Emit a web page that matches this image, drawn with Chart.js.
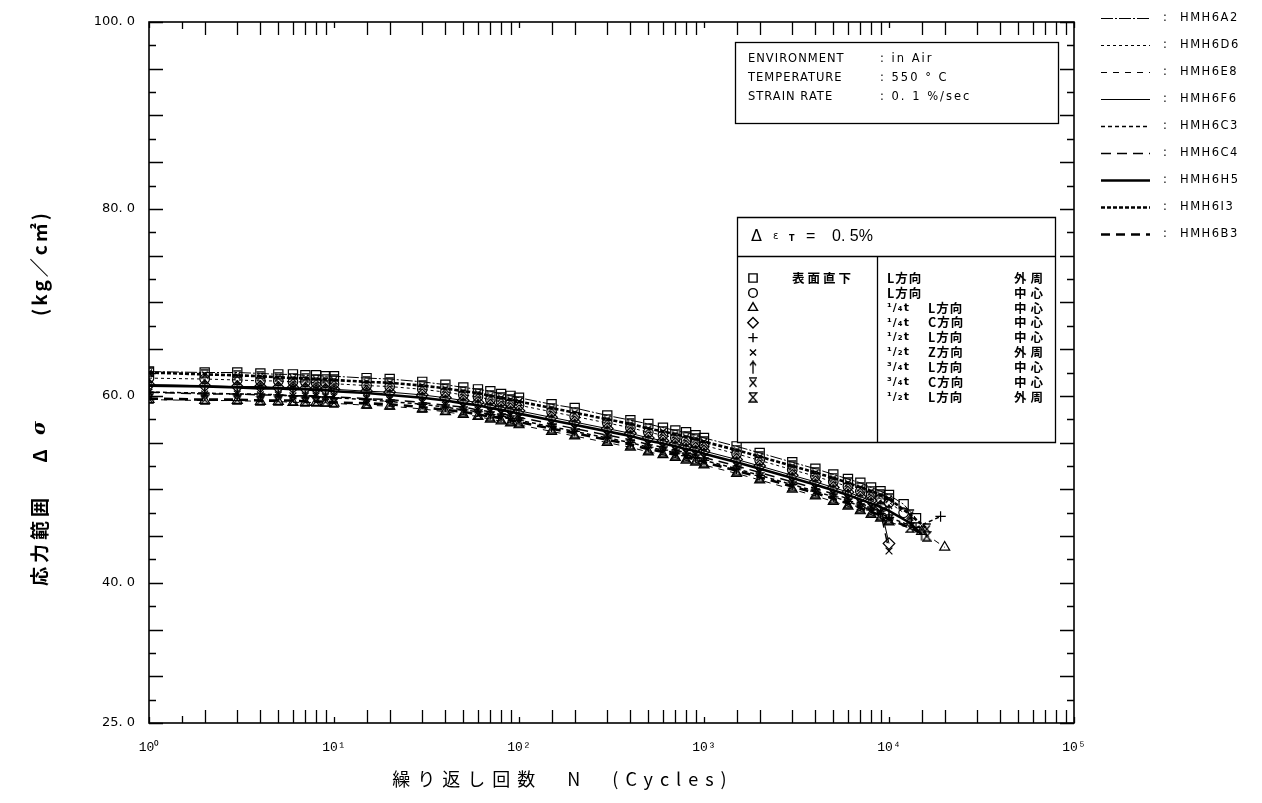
<!DOCTYPE html>
<html><head><meta charset="utf-8">
<script src="https://cdn.jsdelivr.net/npm/chart.js@4.4.1/dist/chart.umd.min.js"></script>
<style>html,body{margin:0;padding:0;background:#fff;}#wrap{width:1262px;height:803px;}</style>
</head><body><div id="wrap"><canvas id="c" width="1262" height="803"></canvas></div>
<script>
// ---------------- data ----------------
const cycles = [1,2,3,4,5,6,7,8,9,10,15,20,30,40,50,60,70,80,90,100,150,200,300,400,500,600,700,800,900,1000,1500,2000,3000,4000,5000,6000,7000,8000,9000,10000];
const seriesNames = ['HMH6A2','HMH6D6','HMH6E8','HMH6F6','HMH6C3','HMH6C4','HMH6H5','HMH6I3','HMH6B3'];
const hmh6A2 = [62.6,62.5,62.5,62.4,62.3,62.3,62.2,62.2,62.1,62.1,61.9,61.8,61.5,61.2,60.9,60.7,60.5,60.2,60.0,59.8,59.1,58.7,57.9,57.4,57.0,56.6,56.3,56.1,55.8,55.5,54.6,53.9,52.9,52.2,51.6,51.1,50.7,50.2,49.8,49.4];
const hmh6D6 = [61.9,61.8,61.7,61.6,61.6,61.5,61.5,61.4,61.4,61.3,61.1,61.0,60.7,60.4,60.1,59.9,59.6,59.4,59.2,59.0,58.3,57.8,57.1,56.6,56.1,55.8,55.5,55.2,55.0,54.7,53.8,53.1,52.1,51.4,50.8,50.3,49.8,49.4,49.0,48.6];
const hmh6E8 = [59.6,59.5,59.5,59.4,59.4,59.3,59.3,59.3,59.2,59.2,59.0,58.9,58.6,58.3,58.0,57.8,57.5,57.3,57.1,56.9,56.2,55.7,55.0,54.5,54.0,53.7,53.4,53.1,52.9,52.6,51.7,51.0,50.0,49.3,48.7,48.2,47.7,47.3,46.9,46.5];
const hmh6F6 = [61.2,61.1,61.0,61.0,60.9,60.9,60.8,60.8,60.7,60.7,60.5,60.4,60.1,59.8,59.5,59.3,59.0,58.8,58.6,58.4,57.7,57.2,56.5,56.0,55.5,55.2,54.9,54.6,54.4,54.1,53.2,52.5,51.5,50.8,50.2,49.7,49.2,48.8,48.2,44.2];
const hmh6C3 = [60.4,60.3,60.2,60.2,60.1,60.0,60.0,59.9,59.9,59.8,59.6,59.4,59.1,58.8,58.5,58.3,58.0,57.8,57.6,57.4,56.7,56.2,55.5,55.0,54.5,54.2,53.9,53.6,53.4,53.1,52.2,51.5,50.5,49.8,49.2,48.7,48.2,47.8,47.4,47.0];
const hmh6C4 = [60.4,60.2,60.2,60.1,60.1,60.0,60.0,60.0,59.9,59.9,59.7,59.6,59.3,59.0,58.8,58.5,58.3,58.1,57.9,57.7,57.0,56.5,55.8,55.3,54.8,54.5,54.2,53.9,53.7,53.4,52.5,51.8,50.8,50.1,49.5,49.0,48.5,48.1,47.6,43.4];
const hmh6H5 = [61.1,61.0,60.9,60.8,60.8,60.7,60.7,60.6,60.6,60.5,60.3,60.1,59.8,59.5,59.2,59.0,58.7,58.5,58.3,58.1,57.4,56.9,56.2,55.7,55.2,54.9,54.6,54.3,54.1,53.8,52.9,52.2,51.2,50.5,49.9,49.4,48.9,48.5,48.1,47.7];
const hmh6I3 = [62.5,62.3,62.2,62.1,62.0,61.9,61.9,61.8,61.8,61.7,61.5,61.4,61.1,60.8,60.5,60.3,60.0,59.8,59.6,59.4,58.7,58.2,57.5,57.0,56.5,56.2,55.9,55.6,55.4,55.1,54.2,53.5,52.5,51.8,51.2,50.7,50.2,49.8,49.4,49.0];
const hmh6B3 = [59.7,59.6,59.6,59.5,59.5,59.5,59.4,59.4,59.4,59.3,59.2,59.1,58.8,58.5,58.3,58.0,57.8,57.6,57.4,57.2,56.5,56.0,55.3,54.8,54.3,54.0,53.7,53.4,53.2,52.9,52.0,51.3,50.3,49.6,49.0,48.5,48.0,47.6,47.2,46.8];
// failure tails (cycles, values)
const tailA2N = [12000,14000], tailA2V = [48.4,46.9];
const tailD6N = [12000],       tailD6V = [47.5];
const tailE8N = [15000,20000], tailE8V = [45.5,43.8];
const tailF6N = [],            tailF6V = [];
const tailC3N = [14000,19000], tailC3V = [45.9,47.1];
const tailC4N = [],            tailC4V = [];
const tailH5N = [13000,15000], tailH5V = [46.4,45.2];
const tailI3N = [13000,16000], tailI3V = [47.3,45.8];
const tailB3N = [13000,16000], tailB3V = [45.9,45.0];

const yTickValues = [100,80,60,40,25];
const yTickText = ['100. 0','80. 0','60. 0','40. 0','25. 0'];
const xTickText = ['10\u2070','10\u00B9','10\u00B2','10\u00B3','10\u2074','10\u2075'];

const envLabels = ['ENVIRONMENT','TEMPERATURE','STRAIN RATE'];
const envValues = [': in Air',': 550 \u00B0 C',': 0. 1 %/sec'];
const posLabels = ['表面直下','','','','','','','',''];
const fracLabels = ['','','\u00B9/\u2084t','\u00B9/\u2084t','\u00B9/\u2082t','\u00B9/\u2082t','\u00B3/\u2084t','\u00B3/\u2084t','\u00B9/\u2082t'];
const dirLabels = ['L方向','L方向','L方向','C方向','L方向','Z方向','L方向','C方向','L方向'];
const locLabels = ['外周','中心','中心','中心','中心','外周','中心','中心','外周'];

// ---------------- marker images ----------------
function mk(w,h,draw){const c=document.createElement('canvas');c.width=w;c.height=h;const g=c.getContext('2d');g.strokeStyle='#000';g.lineWidth=1.3;g.beginPath();draw(g);g.stroke();return c;}
const arrowImg = mk(10,14,g=>{g.moveTo(5,13.5);g.lineTo(5,1);g.moveTo(2,5);g.lineTo(5,1);g.lineTo(8,5);});
const xbarImg = mk(10,11,g=>{g.moveTo(1,1);g.lineTo(9,1);g.moveTo(2,2.5);g.lineTo(8.5,10);g.moveTo(8,2.5);g.lineTo(1.5,10);});
const hourImg = mk(10,11,g=>{g.moveTo(1,1);g.lineTo(9,1);g.lineTo(1,10);g.lineTo(9,10);g.lineTo(1,1);});

const styles = [
  {ps:'rect',r:6.5,w:1,dash:[12,2,2,2]},
  {ps:'circle',r:4.8,w:1,dash:[3,3]},
  {ps:'triangle',r:5.8,w:1,dash:[6,6]},
  {ps:'rectRot',r:5.8,w:1,dash:[]},
  {ps:'cross',r:5.2,w:1.5,dash:[4,3]},
  {ps:'crossRot',r:4.8,w:1.5,dash:[10,6]},
  {ps:arrowImg,r:6,w:2.6,dash:[]},
  {ps:xbarImg,r:6,w:2.6,dash:[4,2]},
  {ps:hourImg,r:6,w:2.6,dash:[9,6]}
];
const seriesVals = [hmh6A2,hmh6D6,hmh6E8,hmh6F6,hmh6C3,hmh6C4,hmh6H5,hmh6I3,hmh6B3];
const tailsN = [tailA2N,tailD6N,tailE8N,tailF6N,tailC3N,tailC4N,tailH5N,tailI3N,tailB3N];
const tailsV = [tailA2V,tailD6V,tailE8V,tailF6V,tailC3V,tailC4V,tailH5V,tailI3V,tailB3V];

const datasets = seriesNames.map((name,i)=>{
  const pts = cycles.map((n,j)=>({x:n,y:seriesVals[i][j]})).concat(tailsN[i].map((n,j)=>({x:n,y:tailsV[i][j]})));
  const s = styles[i];
  return {label:name,data:pts,borderColor:'#000',borderWidth:s.w,borderDash:s.dash,pointStyle:s.ps,
    pointRadius:s.r,pointBorderColor:'#000',pointBackgroundColor:'rgba(0,0,0,0)',pointBorderWidth:1.2,
    tension:0,fill:false};
});

function rotText(ctx,txt,x,y,font,ls){ctx.save();ctx.translate(x,y);ctx.rotate(-Math.PI/2);ctx.font=font;ctx.letterSpacing=ls;ctx.textAlign='center';ctx.textBaseline='middle';ctx.fillText(txt,0,0);ctx.restore();}

const decor = {
  id:'decor',
  afterDraw(chart){
    const ctx=chart.ctx,{left,right,top,bottom}=chart.chartArea,xs=chart.scales.x,ys=chart.scales.y;
    ctx.save();
    ctx.strokeStyle='#000';ctx.fillStyle='#000';
    ctx.lineWidth=1.6;ctx.strokeRect(left,top,right-left,bottom-top);
    ctx.lineWidth=1.3;ctx.beginPath();
    ys.ticks.forEach(t=>{const py=Math.round(ys.getPixelForValue(t.value))+0.5;const len=(Math.abs(t.value%5)<1e-6)?14:7;
      ctx.moveTo(left,py);ctx.lineTo(left+len,py);ctx.moveTo(right,py);ctx.lineTo(right-len,py);});
    const xv=[];xs.ticks.forEach(t=>{xv.push([t.value,Number.isInteger(Math.log10(t.value))?6:13]);
      if(Number.isInteger(Math.log10(t.value))&&t.value<xs.max)xv.push([t.value*1.5,7]);});
    xv.forEach(([v,len])=>{const px=Math.round(xs.getPixelForValue(v))+0.5;
      ctx.moveTo(px,top);ctx.lineTo(px,top+len);ctx.moveTo(px,bottom);ctx.lineTo(px,bottom-len);});
    ctx.stroke();

    // axis titles
    ctx.textBaseline='middle';ctx.textAlign='center';
    ctx.font='18px "Noto Sans CJK JP"';ctx.letterSpacing='7px';
    ctx.fillText('繰り返し回数　N　(Cycles)',563,779);
    ctx.letterSpacing='0px';
    rotText(ctx,'応力範囲',40,540,'bold 19px "Noto Sans CJK JP"','4px');
    rotText(ctx,'Δ',40,456,'bold 19px "Noto Sans CJK JP"','0px');
    rotText(ctx,'σ',40,428,'bold italic 19px "DejaVu Serif"','0px');
    rotText(ctx,'(kg／c㎡)',40,263,'bold 19px "Noto Sans CJK JP"','3px');

    // environment box
    const ex=735,ey=42,ew=323,eh=81;
    ctx.fillStyle='#fff';ctx.fillRect(ex,ey,ew,eh);ctx.fillStyle='#000';
    ctx.lineWidth=1.3;ctx.strokeRect(ex+0.5,ey+0.5,ew,eh);
    ctx.textAlign='left';ctx.font='11.5px "DejaVu Sans"';ctx.letterSpacing='1px';
    envLabels.forEach((t,i)=>{ctx.fillText(t,748,59+i*19);});
    ctx.letterSpacing='2px';
    envValues.forEach((t,i)=>{ctx.fillText(t,880,59+i*19);});
    ctx.letterSpacing='0px';

    // symbol box
    const bx=737,by=217,bw=318,bh=225,sep=256,div=877;
    ctx.fillStyle='#fff';ctx.fillRect(bx,by,bw,bh);ctx.fillStyle='#000';
    ctx.beginPath();ctx.rect(bx+0.5,by+0.5,bw,bh);ctx.moveTo(bx,sep+0.5);ctx.lineTo(bx+bw,sep+0.5);
    ctx.moveTo(div+0.5,sep);ctx.lineTo(div+0.5,by+bh);ctx.stroke();
    ctx.font='16px "DejaVu Sans"';ctx.fillText('Δ',751,237);
    ctx.font='10px "DejaVu Sans"';ctx.fillText('ε',773,236);ctx.font='bold 8px "DejaVu Sans"';ctx.fillText('T',789,239);
    ctx.font='16px "Liberation Sans"';ctx.fillText('=',806,237);ctx.fillText('0. 5%',832,237);
    const rowY0=278,rowDy=14.9;
    for(let i=0;i<9;i++){
      const yy=rowY0+i*rowDy, s=styles[i];
      if(typeof s.ps==='string'){
        ctx.lineWidth=1.4;ctx.fillStyle='rgba(0,0,0,0)';
        Chart.helpers.drawPoint(ctx,{pointStyle:s.ps,radius:s.r*0.9,rotation:0,borderWidth:1.4},753,yy);
      } else {
        ctx.drawImage(s.ps,753-s.ps.width/2,yy-s.ps.height/2);
      }
      ctx.fillStyle='#000';
      ctx.font='bold 12.5px "Noto Sans CJK JP"';ctx.letterSpacing='3px';
      if(posLabels[i])ctx.fillText(posLabels[i],792,yy);
      ctx.letterSpacing='1px';
      if(fracLabels[i]){ctx.font='bold 11px "DejaVu Sans"';ctx.fillText(fracLabels[i],887,yy);
        ctx.font='bold 12.5px "Noto Sans CJK JP"';ctx.fillText(dirLabels[i],928,yy);}
      else {ctx.font='bold 12.5px "Noto Sans CJK JP"';ctx.fillText(dirLabels[i],887,yy);}
      ctx.letterSpacing='4px';ctx.fillText(locLabels[i],1014,yy);ctx.letterSpacing='0px';
    }

    // line legend
    chart.data.datasets.forEach((d,i)=>{
      const yy=Math.round(18+i*27)+0.5;
      ctx.lineWidth=d.borderWidth;ctx.setLineDash(d.borderDash);
      ctx.beginPath();ctx.moveTo(1101,yy);ctx.lineTo(1150,yy);ctx.stroke();ctx.setLineDash([]);
      ctx.font='11.5px "DejaVu Sans"';ctx.letterSpacing='1.5px';
      ctx.fillText(':',1163,yy);ctx.fillText(d.label,1180,yy);ctx.letterSpacing='0px';
    });
    ctx.restore();
  }
};

new Chart(document.getElementById('c'),{
  type:'line',
  data:{datasets},
  options:{
    responsive:false,animation:false,devicePixelRatio:1,
    layout:{padding:{left:0,top:22,right:188,bottom:0}},
    plugins:{legend:{display:false},tooltip:{enabled:false}},
    scales:{
      x:{type:'logarithmic',min:1,max:100000,
        grid:{display:false,drawTicks:false},border:{display:false},
        ticks:{autoSkip:false,maxRotation:0,padding:17,color:'#000',font:{family:'Liberation Mono',size:13},
          callback:(v)=>{const e=Math.log10(v);return Math.abs(e-Math.round(e))<1e-9?xTickText[Math.round(e)]:'';}},
        afterFit:(s)=>{s.height=80;}},
      y:{type:'linear',min:25,max:100,
        grid:{display:false,drawTicks:false},border:{display:false},
        ticks:{stepSize:2.5,autoSkip:false,padding:14,color:'#000',font:{family:'DejaVu Sans',size:13},
          callback:(v)=>{const k=yTickValues.indexOf(v);return k>=0?yTickText[k]:'';}},
        afterFit:(s)=>{s.width=149;}}
    }
  },
  plugins:[decor]
});
</script></body></html>
